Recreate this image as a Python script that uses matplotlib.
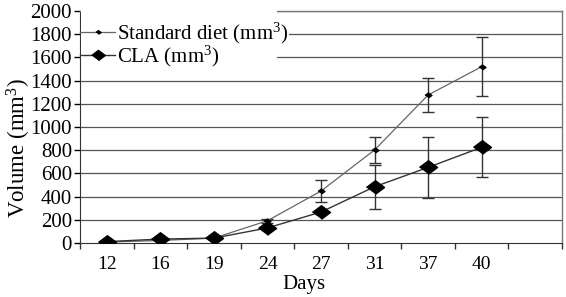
import matplotlib
matplotlib.use('Agg')
import matplotlib.pyplot as plt
from matplotlib.patches import Rectangle
import numpy as np

plt.rcParams['font.family'] = ['Liberation Serif', 'DejaVu Serif']
plt.rcParams['mathtext.fontset'] = 'custom'
plt.rcParams['mathtext.rm'] = 'Liberation Serif'
plt.rcParams['mathtext.it'] = 'Liberation Serif:italic'

# data
days = ['12', '16', '19', '24', '27', '31', '37', '40']
standard = [8, 22, 42, 192, 448, 802, 1276, 1520]
standard_err = [5, 8, 8, 18, 92, 115, 150, 255]
cla = [12, 34, 42, 130, 267, 485, 652, 825]
cla_err = [5, 6, 6, 15, 20, 188, 260, 257]

x = np.arange(len(days))

fig = plt.figure(figsize=(5.66, 2.97), dpi=100)
ax = fig.add_axes([0.1413, 0.1818, 0.8517, 0.7812])

# horizontal grid
for v in range(200, 2001, 200):
    ax.axhline(v, color='#555555', lw=0.9, zorder=0)

ax.errorbar(x, standard, yerr=standard_err, fmt='none', ecolor='#333333',
            elinewidth=1.0, capsize=4, capthick=1.0, zorder=2)
ax.errorbar(x, cla, yerr=cla_err, fmt='none', ecolor='#333333',
            elinewidth=1.0, capsize=4, capthick=1.0, zorder=2)

small_d = [(-1, 0), (0, 0.7), (1, 0), (0, -0.7)]
big_d = [(-1, 0), (0, 0.75), (1, 0), (0, -0.75)]
ax.plot(x, standard, color='#666666', lw=0.9, marker=small_d,
        markersize=5, markerfacecolor='black', markeredgecolor='black',
        label='Standard diet (mm$^{\\mathrm{3}}$)', zorder=3)
ax.plot(x, cla, color='#333333', lw=1.0, marker=big_d,
        markersize=13, markerfacecolor='black', markeredgecolor='black',
        label='CLA (mm$^{\\mathrm{3}}$)', zorder=3)

ax.set_xlim(-0.5, 8.5)
ax.set_ylim(0, 2000)
ax.set_yticks(range(0, 2001, 200))
ax.set_xticks(x)
ax.set_xticklabels(days)
ax.set_xticks(np.arange(-0.5, 8.6, 1), minor=True)
ax.tick_params(axis='x', which='major', length=0, pad=9.5, labelsize=14)
ax.tick_params(axis='x', which='minor', length=4, width=1, color='#333333', direction='out')
ax.tick_params(axis='y', length=4.5, width=1, pad=1.2, labelsize=15, direction='out')

for s in ['top', 'right']:
    ax.spines[s].set_color('#777777')
    ax.spines[s].set_linewidth(1.0)
ax.spines['left'].set_color('#333333')
ax.spines['bottom'].set_color('#333333')

ax.set_xlabel('Days', fontsize=15)
ax.xaxis.set_label_coords(0.465, -0.14)
ax.set_ylabel('Volume (mm$^{\\mathrm{3}}$)', fontsize=16.5)
ax.yaxis.set_label_coords(-0.097, 0.41)

# white box behind the legend (hides grid and top spine there)
ax.add_patch(Rectangle((0.003, 0.78), 0.406, 0.255, transform=ax.transAxes,
                       facecolor='white', edgecolor='none', clip_on=False,
                       zorder=4))

leg = ax.legend(loc='upper left', bbox_to_anchor=(0.0, 0.958), frameon=False,
                fontsize=15, handlelength=1.7, handletextpad=0.1,
                borderaxespad=0.0, borderpad=0.0, labelspacing=-0.12,
                markerscale=0.75)
leg.set_zorder(5)
leg.get_texts()[0].set_bbox(dict(facecolor='white', edgecolor='none', pad=0))

fig.savefig('out.png', dpi=100)
